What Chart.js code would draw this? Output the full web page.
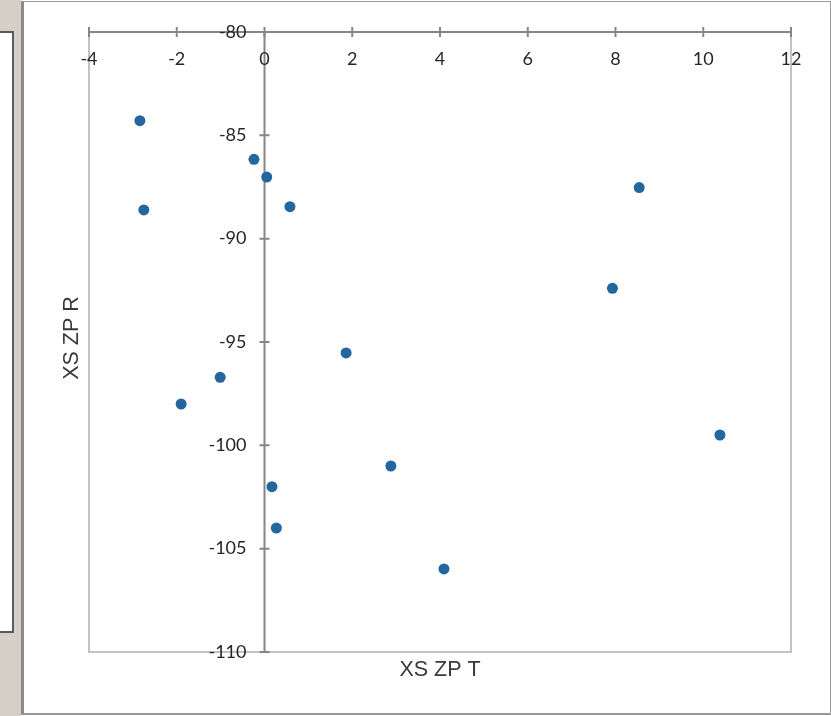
<!DOCTYPE html>
<html>
<head>
<meta charset="utf-8">
<script src="https://cdn.jsdelivr.net/npm/chart.js@4/dist/chart.umd.min.js"></script>
<style>
  html, body { margin: 0; padding: 0; background: #ffffff; }
  body { width: 831px; height: 716px; position: relative; overflow: hidden; }
  #strip { position: absolute; left: 0; top: 0; width: 21px; height: 716px; background: #d4d0c8; }
  #box { position: absolute; left: 0; top: 31px; width: 12px; height: 598px; background: #ffffff;
         border-top: 2px solid #5a5a5a; border-right: 2px solid #5a5a5a; border-bottom: 2px solid #5a5a5a; }
  #frame { position: absolute; left: 21px; top: 1px; width: 806px; height: 711px;
           border-left: 3px solid #8c8c8c; border-top: 1px solid #9a9a9a; border-right: 1px solid #9a9a9a; border-bottom: 2px solid #9a9a9a; background: #ffffff; }
  #c { position: absolute; left: 0; top: 0; }
</style>
</head>
<body>
<div id="strip"></div>
<div id="box"></div>
<div id="frame"></div>
<canvas id="c" width="831" height="716"></canvas>
<script>
// ---- data ----
const xValues = [-2.84, -2.75, -0.24, 0.05, 0.58, 8.54, 7.93, 1.86, -1.01, -1.90, 10.38, 2.88, 0.17, 0.27, 4.09];
const yValues = [-84.29, -88.61, -86.16, -87.02, -88.45, -87.53, -92.40, -95.53, -96.71, -98.0, -99.5, -101.0, -102.0, -104.0, -105.98];
const xTickLabels = ['-4', '-2', '0', '2', '4', '6', '8', '10', '12'];
const yTickLabels = ['-80', '-85', '-90', '-95', '-100', '-105', '-110'];
const xTitle = 'XS ZP T';
const yTitle = 'XS ZP R';

const points = xValues.map((x, i) => ({ x: x, y: yValues[i] }));
const xTickVals = xTickLabels.map(Number);
const yTickVals = yTickLabels.map(Number);

const axisPlugin = {
  id: 'excelAxes',
  beforeDatasetsDraw(chart) {
    const ctx = chart.ctx;
    const xs = chart.scales.x, ys = chart.scales.y;
    const a = chart.chartArea;
    ctx.save();
    // plot area border (left, right, bottom)
    ctx.strokeStyle = '#c3c3c3';
    ctx.lineWidth = 2;
    ctx.beginPath();
    ctx.moveTo(a.left, a.top); ctx.lineTo(a.left, a.bottom);
    ctx.lineTo(a.right, a.bottom); ctx.lineTo(a.right, a.top);
    ctx.stroke();

    const axisX = ys.getPixelForValue(yTickVals[0]); // horizontal axis crosses at -80
    const axisY = xs.getPixelForValue(0);            // vertical axis crosses at 0
    ctx.strokeStyle = '#868686';
    ctx.lineWidth = 2;
    ctx.beginPath();
    ctx.moveTo(a.left, axisX); ctx.lineTo(a.right, axisX);
    ctx.moveTo(axisY, a.top); ctx.lineTo(axisY, a.bottom);
    ctx.stroke();
    // crossing tick marks
    ctx.beginPath();
    xTickVals.forEach(v => {
      const px = xs.getPixelForValue(v);
      ctx.moveTo(px, axisX - 5); ctx.lineTo(px, axisX + 5);
    });
    yTickVals.forEach(v => {
      const py = ys.getPixelForValue(v);
      ctx.moveTo(axisY - 5, py); ctx.lineTo(axisY + 5, py);
    });
    ctx.stroke();

    // tick labels
    ctx.fillStyle = '#262626';
    ctx.font = '18px Lato';
    ctx.textBaseline = 'middle';
    ctx.textAlign = 'center';
    xTickVals.forEach((v, i) => {
      ctx.fillText(xTickLabels[i], xs.getPixelForValue(v), axisX + 27);
    });
    ctx.textAlign = 'right';
    yTickVals.forEach((v, i) => {
      ctx.fillText(yTickLabels[i], axisY - 18, ys.getPixelForValue(v));
    });

    // axis titles
    ctx.fillStyle = '#3a3a3a';
    ctx.font = '21.5px "Liberation Sans"';
    ctx.textAlign = 'center';
    ctx.fillText(xTitle, (a.left + a.right) / 2, a.bottom + 18);
    ctx.translate(72, (a.top + a.bottom) / 2 - 4);
    ctx.rotate(-Math.PI / 2);
    ctx.fillText(yTitle, 0, 0);
    ctx.restore();
  }
};

new Chart(document.getElementById('c'), {
  type: 'scatter',
  data: {
    datasets: [{
      data: points,
      backgroundColor: '#24669e',
      borderColor: '#24669e',
      pointRadius: 5.5,
      pointBorderWidth: 0
    }]
  },
  options: {
    responsive: false,
    devicePixelRatio: 1,
    animation: false,
    layout: { padding: { left: 89, top: 32, right: 40, bottom: 64 } },
    plugins: { legend: { display: false }, tooltip: { enabled: false } },
    scales: {
      x: { type: 'linear', min: -4, max: 12, ticks: { stepSize: 2 }, display: false },
      y: { type: 'linear', min: -110, max: -80, ticks: { stepSize: 5 }, display: false }
    }
  },
  plugins: [axisPlugin]
});
</script>
</body>
</html>
